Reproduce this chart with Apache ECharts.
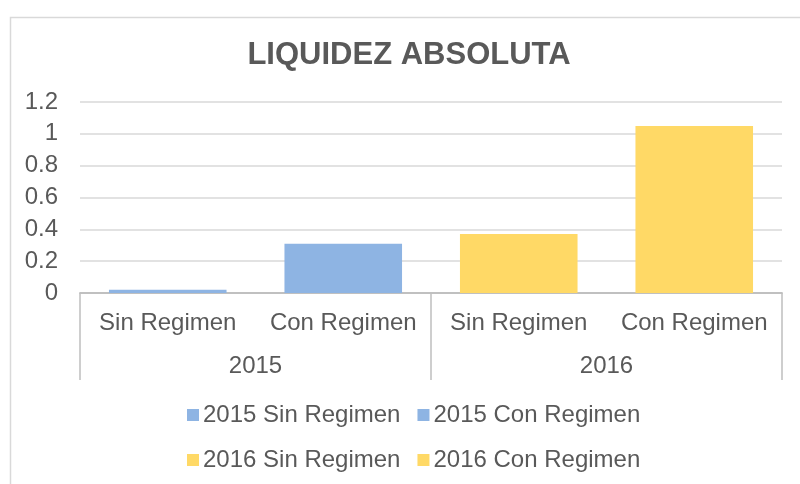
<!DOCTYPE html>
<html>
<head>
<meta charset="utf-8">
<script src="https://cdn.jsdelivr.net/npm/echarts@6/dist/echarts.min.js"></script>
<style>
  html, body { margin: 0; padding: 0; background: #fff; }
  #chart { width: 800px; height: 484px; }
</style>
</head>
<body>
<div id="chart"></div>
<script>
// datos
var categorias = ['Sin Regimen', 'Con Regimen', 'Sin Regimen', 'Con Regimen'];
var anios = ['2015', '2016'];
var nombres = ['2015 Sin Regimen', '2015 Con Regimen', '2016 Sin Regimen', '2016 Con Regimen'];
var valores = [0.02, 0.31, 0.37, 1.05];
var colores = ['#8EB4E3', '#8EB4E3', '#FFD966', '#FFD966'];

var fuente = 'Liberation Sans, Arial, sans-serif';
var myChart = echarts.init(document.getElementById('chart'));

// una serie por barra, apiladas para que queden centradas
var series = nombres.map(function(nombre, i) {
  var data = categorias.map(function(c, j) { return j === i ? valores[i] : '-'; });
  return {
    name: nombre,
    type: 'bar',
    stack: 'total',
    barWidth: '67%',
    data: data,
    itemStyle: { color: colores[i] }
  };
});

var legendaBase = {
  orient: 'horizontal',
  icon: 'rect',
  itemWidth: 12,
  itemHeight: 12,
  itemGap: 17,
  textStyle: { fontFamily: fuente, fontSize: 24, color: '#595959', padding: [0, 0, 0, -1] },
  selectedMode: false
};

var option = {
  animation: false,
  title: {
    text: 'LIQUIDEZ ABSOLUTA',
    left: 404,
    textAlign: 'center',
    top: 35,
    textStyle: { fontFamily: fuente, fontSize: 31, fontWeight: 'bold', color: '#595959' }
  },
  graphic: [{
    type: 'rect',
    left: 8, top: 15,
    shape: { width: 900, height: 600 },
    style: { fill: 'none', stroke: '#D9D9D9', lineWidth: 1.5 },
    silent: true
  }],
  legend: [
    Object.assign({}, legendaBase, { data: nombres.slice(0, 2), left: 182, top: 398 }),
    Object.assign({}, legendaBase, { data: nombres.slice(2, 4), left: 182, top: 443 })
  ],
  grid: { left: 80, right: 18, top: 102, bottom: 191, containLabel: false },
  xAxis: [
    {
      type: 'category',
      data: categorias,
      position: 'bottom',
      axisLine: { show: true, lineStyle: { color: '#BFBFBF', width: 1.5 } },
      axisTick: { show: false },
      axisLabel: { margin: 18, fontFamily: fuente, fontSize: 24, color: '#595959', interval: 0 }
    },
    {
      type: 'category',
      data: anios,
      position: 'bottom',
      axisLine: { show: true, lineStyle: { color: '#BFBFBF', width: 1.5 } },
      axisTick: { show: true, length: 87, lineStyle: { color: '#BFBFBF', width: 1.5 } },
      axisLabel: { margin: 61, fontFamily: fuente, fontSize: 24, color: '#595959' }
    }
  ],
  yAxis: {
    type: 'value',
    min: 0,
    max: 1.2,
    interval: 0.2,
    axisLine: { show: false },
    axisTick: { show: false },
    splitLine: { lineStyle: { color: '#D9D9D9', width: 1.5 } },
    axisLabel: {
      margin: 22,
      fontFamily: fuente, fontSize: 24, color: '#595959',
      formatter: function(v) { return String(Math.round(v * 10) / 10); }
    }
  },
  series: series
};

myChart.setOption(option);
</script>
</body>
</html>
